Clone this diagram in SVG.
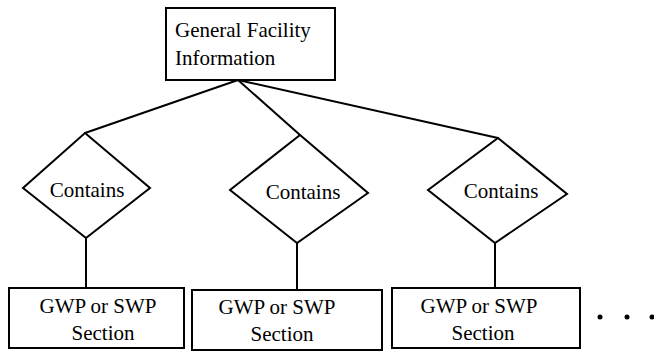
<svg xmlns="http://www.w3.org/2000/svg" width="654" height="352" viewBox="0 0 654 352">
  <style>
    .shape { fill: #ffffff; stroke: #000000; stroke-width: 2; stroke-linejoin: miter; }
    .wire { fill: none; stroke: #000000; stroke-width: 2; stroke-linecap: round; }
    .label { font-family: 'Liberation Serif', 'DejaVu Serif', 'Times New Roman', serif; font-size: 21px; fill: #000000; }
    .mid { text-anchor: middle; }
  </style>
  <rect width="654" height="352" fill="#ffffff"/>

  <!-- connectors -->
  <g id="connectors">
    <line class="wire" x1="238" y1="80" x2="85" y2="133"/>
    <line class="wire" x1="238" y1="80" x2="300" y2="135"/>
    <line class="wire" x1="238" y1="80" x2="498" y2="138"/>
    <line class="wire" x1="86" y1="238" x2="86" y2="288"/>
    <line class="wire" x1="297" y1="243" x2="297" y2="290"/>
    <line class="wire" x1="495" y1="243" x2="495" y2="288"/>
  </g>

  <!-- root -->
  <g id="general-facility">
    <rect class="shape" x="166" y="8" width="169" height="72"/>
    <text class="label" x="175" y="37" font-family="Liberation Serif, DejaVu Serif, serif">General Facility</text>
    <text class="label" x="175" y="65" font-family="Liberation Serif, DejaVu Serif, serif">Information</text>
  </g>

  <!-- relationships -->
  <g id="contains-1">
    <polygon class="shape" points="85,133 150,188 86,238 23,188"/>
    <text class="label mid" x="87" y="197">Contains</text>
  </g>
  <g id="contains-2">
    <polygon class="shape" points="300,135 368,193 297,243 230,190"/>
    <text class="label mid" x="303" y="199">Contains</text>
  </g>
  <g id="contains-3">
    <polygon class="shape" points="498,138 567,194 495,243 428,190"/>
    <text class="label mid" x="501" y="198">Contains</text>
  </g>

  <!-- sections -->
  <g id="section-1">
    <rect class="shape" x="9" y="288" width="175" height="60"/>
    <text class="label mid" x="98" y="313">GWP or SWP</text>
    <text class="label mid" x="103" y="340">Section</text>
  </g>
  <g id="section-2">
    <rect class="shape" x="192" y="290" width="190" height="60"/>
    <text class="label mid" x="277" y="314">GWP or SWP</text>
    <text class="label mid" x="282" y="341">Section</text>
  </g>
  <g id="section-3">
    <rect class="shape" x="392" y="288" width="188" height="60"/>
    <text class="label mid" x="479" y="313">GWP or SWP</text>
    <text class="label mid" x="483" y="340">Section</text>
  </g>

  <!-- continuation -->
  <g id="more">
    <circle cx="600" cy="317" r="2.5" fill="#000000"/>
    <circle cx="627" cy="317" r="2.5" fill="#000000"/>
    <circle cx="652" cy="317" r="2.5" fill="#000000"/>
  </g>
</svg>
